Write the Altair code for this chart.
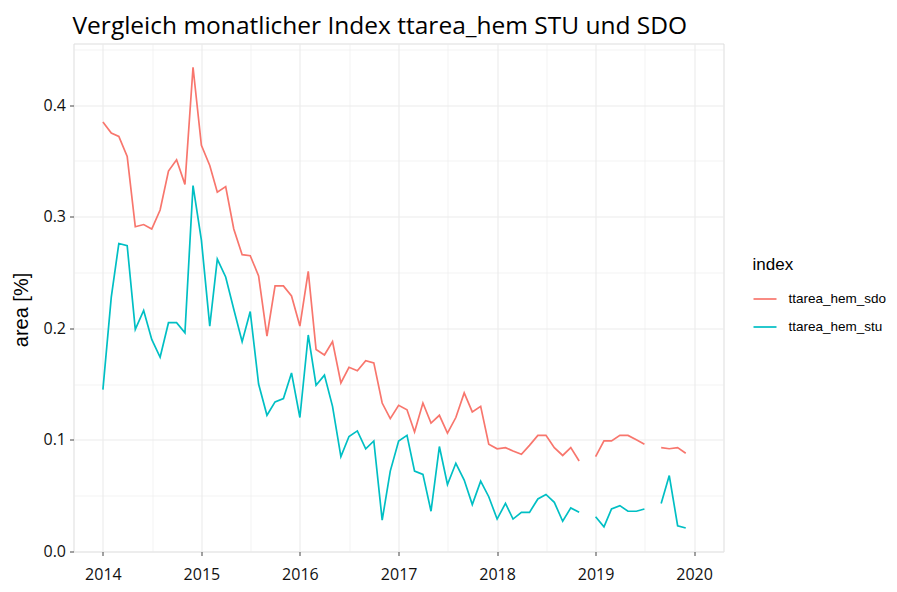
import altair as alt
import pandas as pd

# Monthly dates 2014-01 .. 2019-12
years = [2014, 2015, 2016, 2017, 2018, 2019]
months = [f"{y}-{m:02d}-01" for y in years for m in range(1, 13)]

series_names = ["ttarea_hem_sdo", "ttarea_hem_stu"]
series_colors = ["#F8766D", "#00BFC4"]

sdo = [
    0.385, 0.375, 0.372, 0.354, 0.291, 0.293, 0.289, 0.306, 0.341, 0.351, 0.329, 0.434,
    0.364, 0.346, 0.322, 0.327, 0.289, 0.266, 0.265, 0.247, 0.193, 0.238, 0.238, 0.229,
    0.202, 0.251, 0.181, 0.176, 0.188, 0.151, 0.165, 0.162, 0.171, 0.169, 0.133, 0.119,
    0.131, 0.127, 0.107, 0.133, 0.115, 0.122, 0.106, 0.120, 0.142, 0.125, 0.130, 0.096,
    0.092, 0.093, 0.090, 0.087, 0.095, 0.104, 0.104, 0.093, 0.086, 0.093, 0.081, None,
    0.085, 0.099, 0.099, 0.104, 0.104, 0.100, 0.096, None, 0.093, 0.092, 0.093, 0.088,
]
stu = [
    0.145, 0.228, 0.276, 0.274, 0.199, 0.216, 0.190, 0.174, 0.205, 0.205, 0.196, 0.328,
    0.279, 0.202, 0.262, 0.246, 0.217, 0.188, 0.215, 0.150, 0.122, 0.134, 0.137, 0.160,
    0.120, 0.194, 0.149, 0.158, 0.130, 0.085, 0.103, 0.108, 0.092, 0.099, 0.028, 0.072,
    0.099, 0.104, 0.072, 0.069, 0.036, 0.094, 0.060, 0.079, 0.064, 0.042, 0.063, 0.049,
    0.029, 0.043, 0.029, 0.035, 0.035, 0.047, 0.051, 0.044, 0.027, 0.039, 0.035, None,
    0.031, 0.022, 0.038, 0.041, 0.036, 0.036, 0.038, None, 0.043, 0.068, 0.023, 0.021,
]

major_years = [2014, 2015, 2016, 2017, 2018, 2019, 2020]
minor_years = [2014, 2015, 2016, 2017, 2018, 2019]
y_major = [0.0, 0.1, 0.2, 0.3, 0.4]
y_minor = [0.05, 0.15, 0.25, 0.35, 0.45]

df = pd.DataFrame({
    "date": months * 2,
    "value": sdo + stu,
    "index": [series_names[0]] * len(sdo) + [series_names[1]] * len(stu),
})

xscale = alt.Scale(
    type="utc",
    domain=[alt.DateTime(year=2013, month=9, date=14, utc=True),
            alt.DateTime(year=2020, month=4, date=19, utc=True)],
    nice=False,
)
yscale = alt.Scale(domain=[-0.0001, 0.4553], nice=False, zero=False)

base = alt.Chart(df)

minor = base.mark_line(opacity=0).encode(
    x=alt.X("date:T", scale=xscale, axis=alt.Axis(
        values=[alt.DateTime(year=y, month=7, date=2, utc=True) for y in minor_years],
        grid=True, labels=False, ticks=False, domain=False, title=None,
        gridColor="#EBEBEB", gridWidth=0.6, orient="bottom")),
    y=alt.Y("value:Q", scale=yscale, axis=alt.Axis(
        values=y_minor, grid=True, labels=False, ticks=False, domain=False,
        title=None, gridColor="#EBEBEB", gridWidth=0.6, orient="left")),
)

main = base.mark_line(strokeWidth=1.7, invalid="break-paths-show-domains").encode(
    x=alt.X("date:T", scale=xscale, axis=alt.Axis(
        values=[alt.DateTime(year=y, month=1, date=1, utc=True) for y in major_years],
        format="%Y", grid=True, gridColor="#EBEBEB", gridWidth=1.1,
        domain=False, ticks=True, tickColor="#444444", tickSize=4, tickWidth=1,
        labelFont="Open Sans", labelFontSize=16, labelColor="#111111",
        labelPadding=10.5, title=None, orient="bottom")),
    y=alt.Y("value:Q", scale=yscale, axis=alt.Axis(
        values=y_major, format=".1f", grid=True, gridColor="#EBEBEB", gridWidth=1.1,
        domain=False, ticks=True, tickColor="#444444", tickSize=4, tickWidth=1,
        labelFont="Open Sans", labelFontSize=16, labelColor="#111111",
        labelPadding=4,
        title="area [%]", titleFont="Liberation Sans", titleFontSize=20,
        titleFontWeight="normal", titleColor="black", titleAngle=-90,
        titleX=-52, titleY=266, titleAlign="center", titleBaseline="middle",
        orient="left")),
    color=alt.Color("index:N",
                    scale=alt.Scale(domain=series_names, range=series_colors),
                    legend=alt.Legend(
                        title="index", orient="none", legendX=679, legendY=213,
                        titleFont="Liberation Sans", titleFontSize=17,
                        titleFontWeight="normal", titleColor="black", titlePadding=13,
                        labelFont="Liberation Sans", labelFontSize=13.5, labelColor="black",
                        symbolType="stroke", symbolSize=529, symbolStrokeWidth=1.7,
                        labelOffset=11, rowPadding=9)),
)

chart = alt.layer(minor, main).resolve_axis(
    x="independent", y="independent"
).properties(
    width=650,
    height=508,
    autosize=alt.AutoSizeParams(type="none"),
    padding={"left": 65.5, "top": 35.5, "right": 165.5, "bottom": 32.5},
    title=alt.TitleParams(
        "Vergleich monatlicher Index ttarea_hem STU und SDO",
        anchor="start", frame="group", font="Open Sans", fontSize=24.5,
        fontWeight="normal", color="black", offset=4, dx=-1),
).configure_view(
    stroke="#555555", strokeWidth=1
).configure(background="white")

chart.save("out.html", embed_options={"renderer": "svg", "actions": False})
